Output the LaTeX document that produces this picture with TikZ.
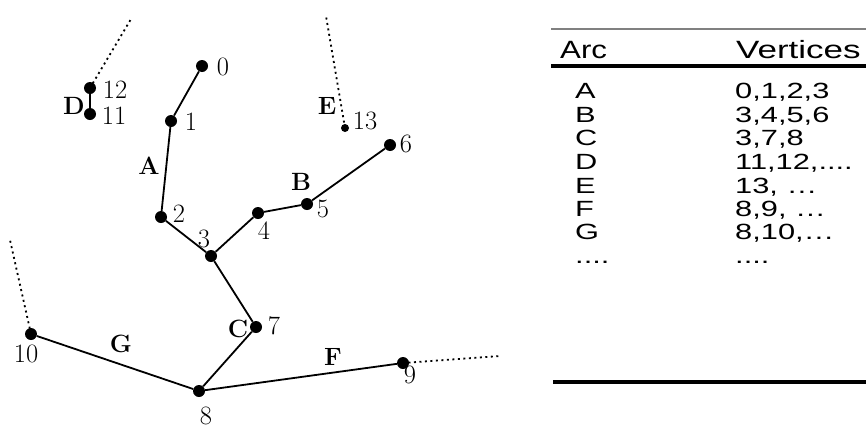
\documentclass[tikz,border=0pt]{standalone}
\usepackage{fontspec}
\usepackage{graphicx}
\newfontfamily\tabfont{Liberation Sans}
\newcommand{\wide}[1]{\scalebox{1.4}[1]{#1}}
\begin{document}
\begin{tikzpicture}[x=1pt,y=-1pt,
  vtx/.style={circle,fill=black,inner sep=0pt,minimum size=12pt},
  smallvtx/.style={circle,fill=black,inner sep=0pt,minimum size=8pt},
  num/.style={inner sep=0pt,font=\fontsize{26.5}{26.5}\selectfont},
  arc/.style={inner sep=0pt,font=\fontsize{25}{25}\selectfont\bfseries},
  edge/.style={line width=1.8pt},
  dots/.style={line width=1.8pt,dash pattern=on 2pt off 3.5pt},
  tab/.style={inner sep=0pt,anchor=base west,font=\tabfont\fontsize{22}{22}\selectfont},
  tabhead/.style={inner sep=0pt,anchor=base west,font=\tabfont\fontsize{25}{25}\selectfont}]
\useasboundingbox (0,0) rectangle (866,434);
% vertices
\node[vtx] (v0) at (202,66) {};
\node[vtx] (v1) at (171,121) {};
\node[vtx] (v2) at (161,217) {};
\node[vtx] (v3) at (211,256) {};
\node[vtx] (v4) at (258,213) {};
\node[vtx] (v5) at (307,204) {};
\node[vtx] (v6) at (390,145) {};
\node[vtx] (v7) at (256,327) {};
\node[vtx] (v8) at (199,391) {};
\node[vtx] (v9) at (403,363) {};
\node[vtx] (v10) at (31,334) {};
\node[vtx] (v11) at (90,114) {};
\node[vtx] (v12) at (90,88) {};
\node[smallvtx] (v13) at (345,128) {};
\coordinate (e12) at (131,19);
\coordinate (e13) at (326,16);
\coordinate (e10) at (10,240);
\coordinate (e9) at (500,356);
% edges
\draw[edge] (v0) -- (v1) -- (v2) -- (v3) -- (v4) -- (v5) -- (v6);
\draw[edge] (v3) -- (v7) -- (v8);
\draw[edge] (v10) -- (v8) -- (v9);
\draw[edge] (v11) -- (v12);
\draw[dots] (v12.center) -- (e12);
\draw[dots] (v13.center) -- (e13);
\draw[dots] (v10.center) -- (e10);
\draw[dots] (v9.center) -- (e9);
% numbers
\node[num] (n0) at (223,67) {0};
\node[num] (n1) at (191,122) {1};
\node[num] (n2) at (179,214) {2};
\node[num] (n3) at (204,239) {3};
\node[num] (n4) at (264,231) {4};
\node[num] (n5) at (323,209) {5};
\node[num] (n6) at (406,144) {6};
\node[num] (n7) at (274,326) {7};
\node[num] (n8) at (206,416) {8};
\node[num] (n9) at (410,375) {9};
\node[num] (n10) at (26,354) {10};
\node[num] (n11) at (114,116) {11};
\node[num] (n12) at (115,90) {12};
\node[num] (n13) at (365,121) {13};
% arc labels
\node[arc] (lD) at (74,106) {D};
\node[arc] (lA) at (149,166) {A};
\node[arc] (lE) at (327,106) {E};
\node[arc] (lB) at (301,182) {B};
\node[arc] (lC) at (238,329) {C};
\node[arc] (lG) at (121,344) {G};
\node[arc] (lF) at (333,357) {F};
% table
\draw[line width=1.2pt,gray] (551,29) -- (866,29);
\draw[line width=3.2pt] (551,66) -- (866,66);
\draw[line width=3.8pt] (553,382) -- (866,382);
\node[tabhead] (hArc) at (560,58) {\scalebox{1.25}[1]{Arc}};
\node[tabhead] (hVer) at (736,58) {\wide{Vertices}};
\node[tab] (rA) at (575,98) {\wide{A}};
\node[tab] (vA) at (735,98) {\wide{0,1,2,3}};
\node[tab] (rB) at (575,122) {\wide{B}};
\node[tab] (vB) at (735,122) {\wide{3,4,5,6}};
\node[tab] (rC) at (575,145) {\wide{C}};
\node[tab] (vC) at (735,145) {\wide{3,7,8}};
\node[tab] (rD) at (575,169) {\wide{D}};
\node[tab] (vD) at (735,169) {\wide{11,12,....}};
\node[tab] (rE) at (575,193) {\wide{E}};
\node[tab] (vE) at (735,193) {\wide{13, \ldots}};
\node[tab] (rF) at (575,216) {\wide{F}};
\node[tab] (vF) at (735,216) {\wide{8,9, \ldots}};
\node[tab] (rG) at (575,239) {\wide{G}};
\node[tab] (vG) at (735,239) {\wide{8,10,\ldots}};
\node[tab] (rX) at (575,263) {\wide{....}};
\node[tab] (vX) at (735,263) {\wide{....}};
\end{tikzpicture}
\end{document}
